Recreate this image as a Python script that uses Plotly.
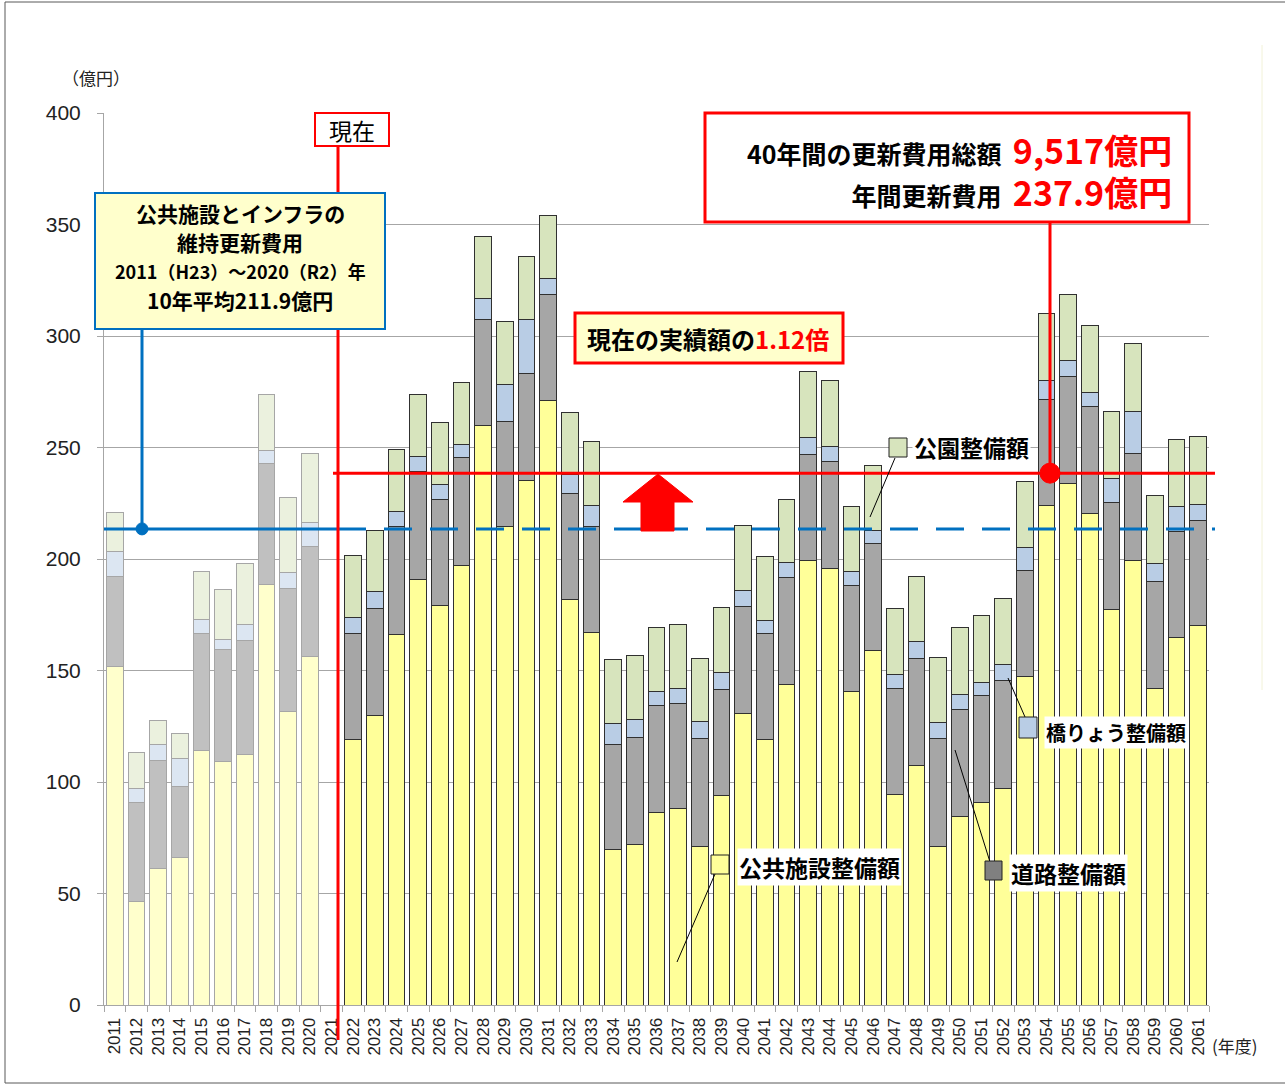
import plotly.graph_objects as go

# ---------------- data ----------------
years = [str(y) for y in range(2011, 2062)]

public_facilities = [152.0, 46.4, 61.2, 66.0, 114.0, 109.2, 112.4, 188.7, 131.7, 156.5, None,
                     119.1, 129.8, 166.0, 190.7, 179.1, 197.0, 259.8, 214.4, 235.3, 270.9, 181.9, 167.0,
                     69.6, 71.9, 86.4, 88.1, 71.3, 94.0, 130.8, 118.9, 143.9, 199.4, 195.7, 140.4, 158.9,
                     94.5, 107.4, 71.1, 84.7, 90.7, 97.2, 147.4, 224.1, 233.9, 220.3, 177.5, 199.2, 141.9, 165.0, 170.0]
roads = [40.1, 44.4, 48.5, 31.8, 52.7, 50.0, 51.1, 54.1, 55.2, 49.3, None,
         47.6, 48.1, 48.4, 48.6, 47.6, 48.3, 47.6, 47.2, 47.7, 47.7, 47.6, 47.7,
         47.4, 47.9, 47.9, 47.2, 48.1, 47.5, 47.9, 47.5, 47.6, 47.4, 47.9, 47.5, 47.9,
         47.4, 48.1, 48.3, 47.6, 48.1, 48.3, 47.6, 47.4, 48.1, 48.3, 48.0, 48.1, 48.1, 47.2, 47.4]
bridges = [11.1, 6.3, 7.0, 12.8, 6.0, 4.8, 7.0, 5.9, 7.0, 10.6, None,
           7.0, 7.7, 7.0, 6.5, 6.6, 5.9, 9.3, 16.8, 24.4, 7.4, 8.2, 9.2,
           9.4, 8.1, 6.1, 6.8, 7.6, 7.6, 7.0, 6.1, 6.8, 7.9, 7.0, 6.6, 5.8,
           6.5, 7.6, 7.5, 7.1, 6.0, 7.1, 10.3, 8.4, 7.1, 5.9, 10.7, 19.0, 8.2, 11.3, 7.1]
parks = [17.5, 16.2, 10.8, 11.3, 21.5, 22.2, 27.5, 24.9, 33.8, 30.7, None,
         27.9, 27.2, 27.9, 27.9, 27.9, 28.1, 28.0, 28.3, 28.2, 28.0, 28.1, 28.9,
         28.7, 28.7, 28.7, 28.5, 28.5, 29.2, 29.2, 28.8, 28.5, 29.3, 29.6, 29.1, 29.3,
         29.3, 29.2, 29.0, 29.7, 29.7, 29.9, 29.4, 30.1, 29.7, 30.1, 30.1, 30.3, 30.1, 30.3, 30.3]

past_avg_line = 213.5      # 10年平均 line as drawn
future_avg_line = 238.5    # 年間更新費用 line as drawn
y_ticks = [0, 50, 100, 150, 200, 250, 300, 350, 400]

# ---------------- styling ----------------
W, H = 1285, 1086
L, R, T, B = 104, 1209, 113, 1005   # plot area in pixels
JP = "Noto Sans CJK JP"
NUM = "Liberation Sans"
NB = "\u00a0"


def px2x(px):
    return (px - L) / (R - L)


def py2y(py):
    return (B - py) / (B - T)


def val2py(v):
    return B - v * (B - T) / 400


past = [int(y) <= 2020 for y in years]

series = [
    ("公共施設整備額", public_facilities, "#FFFFCC", "#FFFF99"),
    ("道路整備額", roads, "#C0C0C0", "#A6A6A6"),
    ("橋りょう整備額", bridges, "#DCE6F2", "#B9CDE5"),
    ("公園整備額", parks, "#EBF1DE", "#D7E4BD"),
]

fig = go.Figure()
for name, vals, c_past, c_fut in series:
    fig.add_trace(go.Bar(
        x=years, y=vals, name=name,
        marker=dict(
            color=[c_past if p else c_fut for p in past],
            line=dict(color=["#A6A6A6" if p else "#303030" for p in past], width=1),
        ),
        showlegend=False,
    ))

shapes = []
annotations = []


def rect(x0, y0, x1, y1, line, width, fill):
    shapes.append(dict(type="rect", xref="paper", yref="paper",
                       x0=px2x(x0), x1=px2x(x1), y0=py2y(y0), y1=py2y(y1),
                       line=dict(color=line, width=width), fillcolor=fill, layer="above"))


def pline(x0, y0, x1, y1, color, width, dash="solid"):
    shapes.append(dict(type="line", xref="paper", yref="paper",
                       x0=px2x(x0), x1=px2x(x1), y0=py2y(y0), y1=py2y(y1),
                       line=dict(color=color, width=width, dash=dash), layer="above"))


def text(x, y, s, size, color="black", xanchor="center", font=JP, bg=None, height=None, align="center"):
    d = dict(xref="paper", yref="paper", x=px2x(x), y=py2y(y), text=s, showarrow=False,
             xanchor=xanchor, yanchor="middle", align=align,
             font=dict(family=font, size=size, color=color))
    if bg:
        d["bgcolor"] = bg
    if height:
        d["height"] = height
    annotations.append(d)


# outer frame
rect(5, 2, 1292, 1083, "#595959", 1, "rgba(0,0,0,0)")
pline(1262, 45, 1262, 690, "#F2F2D8", 1)

# blue past-average lines
shapes.append(dict(type="line", xref="paper", yref="y", x0=0, x1=px2x(338),
                   y0=past_avg_line, y1=past_avg_line, line=dict(color="#0070C0", width=3), layer="above"))
shapes.append(dict(type="line", xref="paper", yref="y", x0=px2x(338), x1=px2x(1215),
                   y0=past_avg_line, y1=past_avg_line,
                   line=dict(color="#0070C0", width=3, dash="28px,18px"), layer="above"))
ypa = val2py(past_avg_line)
pline(142, 329, 142, ypa, "#0070C0", 3)
shapes.append(dict(type="circle", xref="paper", yref="paper",
                   x0=px2x(136), x1=px2x(148), y0=py2y(ypa - 6), y1=py2y(ypa + 6),
                   line=dict(color="#0070C0", width=1), fillcolor="#0070C0", layer="above"))

# red future-average line
shapes.append(dict(type="line", xref="paper", yref="y", x0=px2x(333), x1=px2x(1215),
                   y0=future_avg_line, y1=future_avg_line, line=dict(color="#FF0000", width=3), layer="above"))
yfa = val2py(future_avg_line)
pline(1050, 222, 1050, yfa, "#FF0000", 3)
shapes.append(dict(type="circle", xref="paper", yref="paper",
                   x0=px2x(1040), x1=px2x(1060), y0=py2y(yfa - 10), y1=py2y(yfa + 10),
                   line=dict(color="#FF0000", width=1), fillcolor="#FF0000", layer="above"))

# red "現在" vertical
pline(338, 145, 338, 1040, "#FF0000", 3)

# red up arrow
ap = [(658, 474), (693, 502), (674, 502), (674, 531), (641, 531), (641, 502), (623, 502)]
path = "M " + " L ".join(f"{px2x(x):.5f},{py2y(y):.5f}" for x, y in ap) + " Z"
shapes.append(dict(type="path", xref="paper", yref="paper", path=path,
                   fillcolor="#FF0000", line=dict(color="#FF0000", width=1), layer="above"))

# boxes
rect(315, 113, 389, 146, "#FF0000", 2, "white")
text(352, 130, "現在", 23)

rect(95, 193, 385, 329, "#0070C0", 2, "#FFFFCC")
box_lines = [("公共施設とインフラの", 21), ("維持更新費用", 21),
             ("2011（H23）～2020（R2）年", 18), ("10年平均211.9億円", 21)]
for i, (s, fs) in enumerate(box_lines):
    text(240, 213 + 29 * i, f"<b>{s}</b>", fs, height=28)

rect(575, 313, 843, 363, "#FF0000", 3, "#FFFFCC")
text(708, 338, "<b>現在の実績額の<span style='color:#FF0000'>1.12倍</span></b>", 24)

rect(705, 113, 1189, 222, "#FF0000", 3, "white")
blk = "<span style='font-size:25px'>{}</span>"
red = "<span style='color:#FF0000;font-size:34px'>{}</span>"
big_text = ("<b>" + blk.format("40年間の更新費用総額" + NB + NB) + red.format("9,517億円") + "<br>"
            + blk.format("年間更新費用" + NB + NB) + red.format("237.9億円") + "</b>")
text(1174, 170, big_text, 32, xanchor="right", align="right")


# legend callouts
def callout(sq, color, label_x, label_y, label, lead, fs):
    pline(*lead, "black", 1)
    rect(sq[0], sq[1], sq[2], sq[3], "#202020", 1, color)
    text(label_x, label_y, f"<b>{label}</b>", fs, xanchor="left", bg="white")


callout((889, 438, 907, 457), "#D7E4BD", 912, 447, "公園整備額", (895, 458, 870, 517), 23)
callout((1019, 717, 1037, 738), "#B9CDE5", 1044, 732, "橋りょう整備額", (1025, 717, 1008, 678), 20)
callout((985, 861, 1002, 880), "#808080", 1009, 873, "道路整備額", (990, 862, 955, 750), 23)
callout((711, 855, 729, 874), "#FFFF99", 737, 867, "公共施設整備額", (715, 874, 677, 962), 23)

# axis unit labels
text(96, 77, "（億円）", 17, color="#222")
text(1210, 1045, "(年度)", 17, xanchor="left", color="#222")

fig.update_layout(
    width=W, height=H, autosize=False,
    margin=dict(l=L, r=W - R, t=T, b=H - B, pad=0),
    barmode="stack", bargap=0.23,
    plot_bgcolor="white", paper_bgcolor="white",
    shapes=shapes, annotations=annotations,
    font=dict(family=NUM, color="black"),
)
fig.update_yaxes(range=[0, 400], tickvals=y_ticks, showgrid=True, gridcolor="#A6A6A6", gridwidth=1,
                 showline=True, linecolor="#A6A6A6", ticks="outside", ticklen=6, tickcolor="#A6A6A6",
                 zeroline=False, tickfont=dict(family=NUM, size=21, color="#222"), ticklabelstandoff=12)
fig.update_xaxes(type="category", categoryorder="array", categoryarray=years, tickangle=-90,
                 tickmode="array", tickvals=years, ticktext=years,
                 showline=True, linecolor="#A6A6A6", ticks="outside", ticklen=6, tickcolor="#A6A6A6",
                 tickson="boundaries", showgrid=False, ticklabelstandoff=5,
                 tickfont=dict(family=NUM, size=17, color="#222"))

fig.write_html("out.html", config={"displayModeBar": False},
               post_script="document.body.style.margin='0';")
